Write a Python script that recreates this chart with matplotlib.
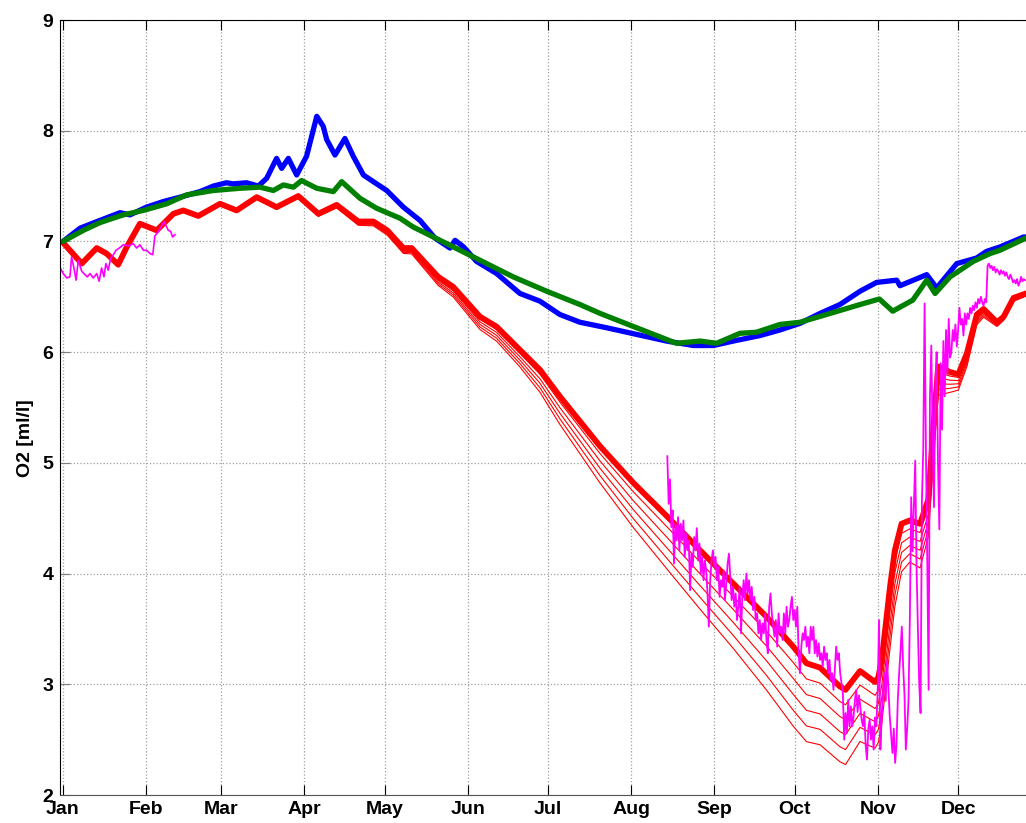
import numpy as np
import matplotlib
matplotlib.use("Agg")
import matplotlib.pyplot as plt

# eje x en dias del año
mes_pos = [1, 32, 60, 91, 121, 152, 182, 213, 244, 274, 305, 335]
mes_lab = ['Jan', 'Feb', 'Mar', 'Apr', 'May', 'Jun', 'Jul', 'Aug', 'Sep', 'Oct', 'Nov', 'Dec']

# modelo azul
azul_d = [1, 7.4, 14.8, 22.3, 26, 32.2, 38.4, 44.7, 52.1, 57.1, 62, 64.5, 69.5, 73.9, 77, 80.7,
          82.6, 85.1, 88.2, 91.9, 95.7, 98.1, 99.4, 102.5, 106.2, 109.3, 113.1, 116.8, 121.8, 128,
          134.2, 139.8, 145.4, 147.3, 150.5, 155.3, 162.8, 171.5, 179, 186.4, 193.9, 203.9, 213.2,
          226.2, 236.2, 243.7, 251.1, 261.1, 268.5, 276, 283.5, 290.9, 298.4, 304.6, 312.1, 313.3,
          323.3, 327, 334.5, 341.9, 345.6, 350.6, 359.4, 360.3]
azul_v = [7.00, 7.12, 7.19, 7.26, 7.24, 7.31, 7.36, 7.40, 7.45, 7.50, 7.53, 7.52, 7.53, 7.50, 7.57, 7.75,
          7.66, 7.75, 7.60, 7.77, 8.13, 8.04, 7.92, 7.78, 7.93, 7.77, 7.60, 7.54, 7.46, 7.31,
          7.19, 7.03, 6.94, 7.01, 6.95, 6.82, 6.71, 6.53, 6.46, 6.34, 6.27, 6.22, 6.17,
          6.10, 6.06, 6.06, 6.10, 6.15, 6.20, 6.26, 6.35, 6.43, 6.55, 6.63, 6.65, 6.60,
          6.70, 6.58, 6.80, 6.85, 6.91, 6.95, 7.04, 7.04]

# modelo verde
verde_d = [1, 8.6, 14.8, 23.5, 31, 39.7, 47.1, 57.1, 67, 74.5, 79.5, 83.2, 87, 90, 95.7, 101.9, 105,
           111.8, 118, 126.7, 131.7, 144.2, 156.6, 169, 181.5, 193.9, 201.4, 211.9, 229.9, 238.7,
           244.9, 253.6, 259.8, 268.5, 276, 285.9, 298.4, 305.6, 310.6, 318.1, 323.3, 326.4, 332,
           340.7, 346.9, 350.6, 360.3]
verde_v = [7.00, 7.10, 7.17, 7.24, 7.28, 7.34, 7.42, 7.46, 7.48, 7.49, 7.46, 7.51, 7.49, 7.55, 7.48, 7.45, 7.54,
           7.39, 7.30, 7.21, 7.13, 6.98, 6.83, 6.68, 6.55, 6.43, 6.35, 6.25, 6.08, 6.10,
           6.08, 6.17, 6.18, 6.25, 6.27, 6.34, 6.43, 6.48, 6.37, 6.47, 6.65, 6.53, 6.68,
           6.82, 6.89, 6.92, 7.03]

# modelo rojo (linea gruesa) y separacion entre las lineas finas
rojo_d = [1, 8, 13.6, 17.3, 21.6, 24.8, 29.7, 36, 42.2, 45.9, 51.5, 59.6, 65.8, 73.3, 80.7, 88.8,
          96.3, 103.1, 111.2, 116.8, 122, 128, 131.1, 141, 146.6, 156.6, 162.8, 171.5, 179, 186.4,
          201.4, 213.8, 227.5, 238.7, 251.1, 263.5, 273.5, 278.4, 283.5, 290.9, 293, 298.4, 304,
          305.2, 306.5, 309.6, 311.4, 313.9, 317, 320.8, 323.9, 326, 327.6, 332, 335.1, 338.3,
          342, 344.5, 349.5, 352, 355.7, 360.3]
rojo_v = [6.99, 6.80, 6.94, 6.89, 6.79, 6.95, 7.16, 7.10, 7.25, 7.28, 7.23, 7.34, 7.28, 7.40, 7.31, 7.41,
          7.25, 7.33, 7.18, 7.18, 7.10, 6.94, 6.94, 6.68, 6.59, 6.32, 6.23, 6.02, 5.84, 5.60,
          5.15, 4.82, 4.49, 4.21, 3.91, 3.61, 3.34, 3.19, 3.15, 2.98, 2.95, 3.12, 3.02,
          3.06, 3.22, 3.88, 4.21, 4.45, 4.48, 4.45, 4.67, 5.40, 5.87, 5.82, 5.80, 5.99,
          6.34, 6.39, 6.27, 6.32, 6.49, 6.53]
sep_d = [0, 100, 130, 150, 171, 186, 201, 227, 251, 273, 293, 305, 310, 316, 321, 328, 334, 350, 361]
sep_v = [0.0, 0.005, 0.01, 0.02, 0.03, 0.05, 0.066, 0.096, 0.117, 0.144, 0.135, 0.118, 0.11, 0.074,
         0.08, 0.05, 0.03, 0.007, 0.005]

# observaciones (magenta)
obs1_d = [0, 1.1, 2.4, 3.6, 4.2, 5.1, 5.9, 6.7, 8, 9.2, 10.1, 11.1, 12.3, 13.6, 14.5, 15.4, 16.3, 17,
          17.9, 18.8, 19.8, 20.8, 22, 23.5, 25.4, 27.2, 28.5, 29.7, 31, 32.2, 33.5, 34.5, 35.3,
          36.6, 37.8, 38.7, 39.7, 40.3, 41.2, 41.9, 42.8]
obs1_v = [6.76, 6.71, 6.67, 6.68, 6.86, 6.76, 6.65, 6.83, 6.73, 6.70, 6.68, 6.71, 6.67, 6.71, 6.64, 6.76,
          6.68, 6.80, 6.74, 6.85, 6.88, 6.92, 6.94, 6.97, 6.96, 6.98, 6.94, 6.97, 6.92, 6.92, 6.89,
          6.88, 7.05, 7.09, 7.14, 7.18, 7.13, 7.10, 7.09, 7.04, 7.06]

obs2_ini = 226.5  # primer dia, un dato cada medio dia
obs2_v = [5.06, 4.63, 4.85, 4.42, 4.57, 4.09, 4.45, 4.30, 4.51, 4.21, 4.45, 4.30, 4.48, 4.15, 4.36, 4.21,
          4.30, 3.85, 4.18, 4.06, 4.33, 4.21, 4.41, 4.12, 4.27, 4.00, 4.15, 3.94, 4.12, 4.03, 3.82, 3.52,
          3.94, 4.12, 4.21, 4.06, 4.15, 3.94, 4.06, 3.79, 3.94, 3.88, 4.03, 3.76, 3.91, 4.09, 4.18, 3.97,
          3.76, 3.88, 3.70, 3.82, 3.58, 3.70, 3.88, 3.46, 3.79, 3.94, 3.76, 4.00, 3.82, 3.94, 3.76, 3.88,
          3.67, 3.79, 3.58, 3.64, 3.46, 3.58, 3.40, 3.55, 3.46, 3.64, 3.40, 3.28, 3.70, 3.82, 3.64, 3.52,
          3.43, 3.58, 3.34, 3.64, 3.46, 3.52, 3.40, 3.64, 3.46, 3.70, 3.52, 3.58, 3.70, 3.79, 3.58, 3.67,
          3.52, 3.70, 3.28, 3.10, 3.34, 3.46, 3.40, 3.52, 3.34, 3.43, 3.28, 3.52, 3.40, 3.52, 3.28, 3.40,
          3.25, 3.37, 3.22, 3.28, 3.16, 3.34, 3.22, 3.28, 3.10, 3.22, 3.04, 3.10, 2.95, 3.13, 3.34, 3.22,
          3.28, 3.10, 3.01, 2.92, 2.50, 2.74, 2.56, 2.86, 2.62,
          2.80, 2.62, 2.71, 2.86, 2.95, 2.75, 2.90, 2.80, 2.68, 2.62, 2.75, 2.45, 2.32, 2.60, 2.68, 2.50,
          2.62, 2.41, 2.70, 2.62, 2.95, 3.58, 2.41, 2.70, 2.92, 3.10, 2.85, 3.22, 2.95, 2.71, 2.55, 2.38,
          2.60, 2.29, 2.45, 2.86, 3.10, 3.30, 3.52, 3.16, 2.90, 2.41, 2.60, 2.86, 3.60, 4.69, 4.20, 4.60,
          5.02, 4.06, 3.50, 3.00, 2.74, 4.66, 5.12, 6.44, 5.10, 4.09, 2.95, 5.60, 6.06, 5.20, 4.60, 5.70,
          6.00, 5.00, 4.40, 5.90, 5.30, 6.10, 5.60, 6.20, 5.80, 6.30, 5.95, 6.00, 6.20, 6.10, 6.25, 6.05,
          6.20, 6.40, 6.25, 6.30, 6.15, 6.35, 6.25, 6.35, 6.30, 6.40, 6.35, 6.42, 6.38, 6.45, 6.40, 6.48,
          6.44, 6.50, 6.45, 6.42, 6.48, 6.45, 6.78, 6.80, 6.76, 6.78, 6.74, 6.77, 6.72, 6.75, 6.73, 6.70,
          6.74, 6.71, 6.73, 6.69, 6.72, 6.68, 6.66, 6.70, 6.67, 6.63, 6.65, 6.62, 6.66, 6.60, 6.63, 6.68,
          6.64, 6.66, 6.65]
obs2_d = obs2_ini + 0.5 * np.arange(len(obs2_v))

plt.rcParams['font.family'] = ['Liberation Sans', 'DejaVu Sans']
plt.rcParams['font.weight'] = 'bold'

fig = plt.figure(figsize=(10.26, 8.23), dpi=100)
ax = fig.add_axes([60.3 / 1026, 1 - 795 / 823, 1 - 60.3 / 1026, (795 - 20) / 823])

# lineas finas del modelo rojo
sep = np.interp(rojo_d, sep_d, sep_v)
for k in range(1, 6):
    ax.plot(rojo_d, np.array(rojo_v) - k * sep, color='red', lw=0.8)
ax.plot(rojo_d, rojo_v, color='red', lw=4.2, solid_capstyle='round', solid_joinstyle='round')
ax.plot(obs1_d, obs1_v, color='magenta', lw=1.2)
ax.plot(obs2_d, obs2_v, color='magenta', lw=1.3)
ax.plot(azul_d, azul_v, color='blue', lw=3.8, solid_capstyle='round', solid_joinstyle='round')
ax.plot(verde_d, verde_v, color='green', lw=3.8, solid_capstyle='round', solid_joinstyle='round')

ax.set_xlim(0, (1026 - 60.3) / 2.68)
ax.set_ylim(2, 9)
ax.set_xticks(mes_pos)
ax.set_xticklabels(mes_lab)
ax.set_yticks(range(2, 10))
ax.tick_params(direction='in', length=7, labelsize=14, top=True, right=False)
ax.tick_params(axis='x', pad=4.5)
ax.tick_params(axis='y', pad=5, color='gray')
for lab in ax.get_xticklabels() + ax.get_yticklabels():
    lab.set_fontweight('bold')
ax.grid(True, linestyle=':', color='#a0a0a0', lw=0.9)
ax.spines['right'].set_visible(False)
ax.spines['bottom'].set_color('#555555')
ax.set_ylabel('O2 [ml/l]', fontsize=14, fontweight='bold')
ax.yaxis.set_label_coords(-0.027, 0.46)

fig.savefig('out.png', dpi=100)
